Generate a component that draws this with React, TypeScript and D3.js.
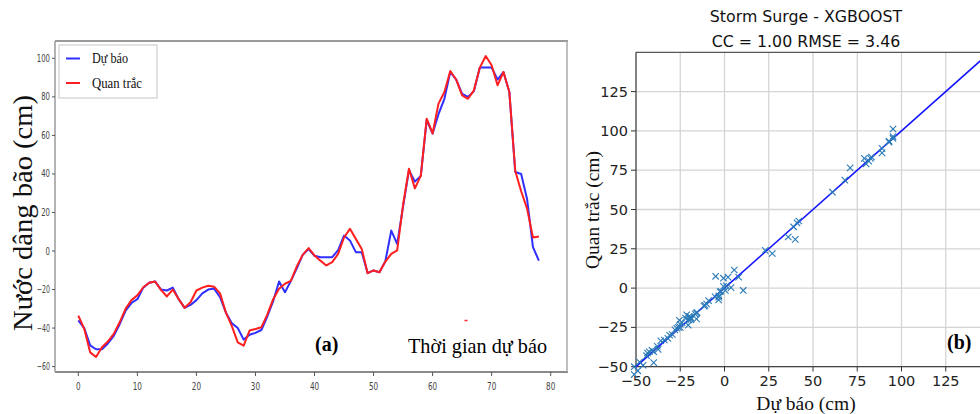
import React from "react";
import * as d3 from "d3";

// Hourly storm-surge series (cm): model forecast vs. observed
const forecast = [
  -36, -40, -49, -51, -51, -48, -44, -38, -31, -27,
  -25, -19, -16.5, -15.8, -20, -20.5, -19, -25, -29.5, -28,
  -25.5, -22, -20, -19.5, -24, -32, -37.5, -40, -46, -43.5,
  -42.5, -41, -34, -26, -15.8, -21.4, -15.5, -9, -2, 1,
  -2.5, -3.2, -3.3, -3.2, 0.5, 8, 5.5, -0.6, -0.6, -11.5,
  -10.1, -11, -5.3, 10.6, 3.7, 23, 42, 36, 39, 68,
  61, 71, 79, 93, 89, 81.5, 80, 83, 95.2, 95.2,
  95.2, 89, 92.9, 82.5, 41, 40, 27, 2, -5,
];
const observed = [
  -33.5, -40.4, -52.6, -55, -50, -47, -43, -37, -30, -25.5,
  -23, -18.8, -16.5, -15.8, -20.2, -23.6, -20, -25, -29.5, -26.6,
  -20.5, -19, -18, -18.5, -22, -32, -39, -47.4, -49.1, -41.3,
  -40.5, -39.6, -33, -25, -19.6, -17, -15.5, -8, -2, 1.5,
  -2.3, -5, -7.5, -5.8, -1.5, 7, 11.5, 6.3, 1.1, -11.5,
  -10.1, -11, -5.5, -1.5, 0.3, 24, 42.7, 32.5, 39, 68.7,
  61, 76.5, 82.5, 93.4, 88.9, 80.8, 79, 83.4, 95.2, 101.2,
  96.4, 86, 92.9, 82.5, 41.5, 31, 22, 7, 7.5,
];

const seriesTicksX = [0, 10, 20, 30, 40, 50, 60, 70, 80];
const seriesTicksY = [-60, -40, -20, 0, 20, 40, 60, 80, 100];
const scatterTicks = [-50, -25, 0, 25, 50, 75, 100, 125];
const legendLabels = ["Dự báo", "Quan trắc"];
const seriesColors = ["#2f2fff", "#ff1f1f"];

const fmt = (v: number) => (v < 0 ? "\u2212" + Math.abs(v) : String(v));

export default function App() {
  const steps = forecast.map((_, i) => i);

  // ---- panel (a): time series ----
  const x = d3.scaleLinear().domain([-3.9, 81.9]).range([55.3, 561.9]);
  const y = d3.scaleLinear().domain([-62.8, 109]).range([372, 41]);
  const line = (vals: number[]) =>
    d3
      .line<number>()
      .x((_, i) => x(steps[i]))
      .y((v) => y(v))(vals) as string;

  // ---- panel (b): scatter ----
  const sx = d3.scaleLinear().domain([-50, 150]).range([636, 990]);
  const sy = d3.scaleLinear().domain([-50, 150]).range([366.7, 52.3]);
  const pairs = forecast.map((f, i) => [f, observed[i]] as [number, number]);

  const serif = "'Liberation Serif', 'DejaVu Serif', serif";
  const sans = "'DejaVu Sans', sans-serif";

  return (
    <svg
      width={980}
      height={414}
      viewBox="0 0 980 414"
      style={{ position: "absolute", left: 0, top: 0, background: "#fff" }}
    >
      <rect x={0} y={0} width={980} height={414} fill="#fff" />

      {/* ===== (a) time series ===== */}
      <g>
        <line x1={55} x2={568} y1={41} y2={41} stroke="#9a9a9a" strokeWidth={2} />
        <line x1={55} x2={568} y1={372} y2={372} stroke="#8a8a8a" strokeWidth={2} />
        <line x1={55} x2={55} y1={41} y2={372} stroke="#9a9a9a" strokeWidth={1.5} />
        <line x1={567} x2={567} y1={41} y2={372} stroke="#aaaaaa" strokeWidth={1.5} />

        {seriesTicksY.map((t) => (
          <g key={"ay" + t}>
            <line x1={52} x2={55} y1={y(t)} y2={y(t)} stroke="#555" />
            <text
              x={50}
              y={y(t) + 3.5}
              fontSize={10}
              fontFamily={sans}
              fill="#444"
              textAnchor="end"
              textLength={fmt(t).length * 4.4}
              lengthAdjust="spacingAndGlyphs"
            >
              {fmt(t)}
            </text>
          </g>
        ))}
        {seriesTicksX.map((t) => (
          <g key={"ax" + t}>
            <line x1={x(t)} x2={x(t)} y1={372} y2={376} stroke="#555" />
            <text
              x={x(t)}
              y={390}
              fontSize={10}
              fontFamily={sans}
              fill="#444"
              textAnchor="middle"
              textLength={String(t).length * 4.6}
              lengthAdjust="spacingAndGlyphs"
            >
              {t}
            </text>
          </g>
        ))}

        <path d={line(forecast)} fill="none" stroke={seriesColors[0]} strokeWidth={2} strokeLinejoin="round" />
        <path d={line(observed)} fill="none" stroke={seriesColors[1]} strokeWidth={2} strokeLinejoin="round" />

        {/* legend */}
        <rect x={59} y={45} width={98} height={53} fill="#fff" stroke="#cfcfcf" strokeWidth={1.2} />
        {legendLabels.map((lab, i) => (
          <g key={lab}>
            <line x1={66} x2={80} y1={58.5 + i * 24.5} y2={58.5 + i * 24.5} stroke={seriesColors[i]} strokeWidth={2} />
            <text
              x={92}
              y={63 + i * 24.5}
              fontSize={15}
              fontFamily={serif}
              fill="#111"
              textLength={i === 0 ? 36 : 50}
              lengthAdjust="spacingAndGlyphs"
            >
              {lab}
            </text>
          </g>
        ))}

        <text
          transform="translate(32,213) rotate(-90)"
          fontSize={27}
          fontFamily={serif}
          fill="#111"
          textAnchor="middle"
          textLength={236}
          lengthAdjust="spacingAndGlyphs"
        >
          Nước dâng bão (cm)
        </text>

        <text x={315} y={351} fontSize={20} fontWeight="bold" fontFamily={serif} fill="#000">
          (a)
        </text>
        <text
          x={408}
          y={353}
          fontSize={22}
          fontFamily={serif}
          fill="#000"
          textLength={139}
          lengthAdjust="spacingAndGlyphs"
        >
          Thời gian dự báo
        </text>
        <line x1={464.5} x2={467.5} y1={320.5} y2={320.5} stroke="#ff2a2a" strokeWidth={1.5} />
      </g>

      {/* ===== (b) scatter ===== */}
      <g>
        <text x={806} y={22} fontSize={15.8} fontFamily={sans} fill="#111" textAnchor="middle">
          Storm Surge - XGBOOST
        </text>
        <text x={806} y={46.5} fontSize={15.8} fontFamily={sans} fill="#111" textAnchor="middle">
          CC = 1.00 RMSE = 3.46
        </text>

        {scatterTicks.map((t) => (
          <g key={"g" + t}>
            <line x1={sx(t)} x2={sx(t)} y1={52.3} y2={366.7} stroke="#d4d4d4" strokeWidth={1.3} />
            <line x1={636} x2={990} y1={sy(t)} y2={sy(t)} stroke="#d4d4d4" strokeWidth={1.3} />
          </g>
        ))}

        <line x1={636} x2={990} y1={52.3} y2={52.3} stroke="#555" strokeWidth={1.2} />
        <line x1={636} x2={990} y1={366.7} y2={366.7} stroke="#444" strokeWidth={1.2} />
        <line x1={636} x2={636} y1={52.3} y2={366.7} stroke="#444" strokeWidth={1.2} />

        {scatterTicks.map((t) => (
          <g key={"t" + t}>
            <line x1={631} x2={636} y1={sy(t)} y2={sy(t)} stroke="#333" />
            <text x={628} y={sy(t) + 5} fontSize={14.5} fontFamily={sans} fill="#222" textAnchor="end">
              {fmt(t)}
            </text>
            <line x1={sx(t)} x2={sx(t)} y1={366.7} y2={371.5} stroke="#333" />
            <text x={sx(t)} y={386} fontSize={14.5} fontFamily={sans} fill="#222" textAnchor="middle">
              {fmt(t)}
            </text>
          </g>
        ))}

        <line
          x1={sx(-50)}
          y1={sy(-50)}
          x2={sx(150)}
          y2={sy(150)}
          stroke="#1414ff"
          strokeWidth={1.6}
        />

        {pairs.map(([f, o], i) => {
          const cx = sx(f);
          const cy = sy(o);
          const r = 3.2;
          return (
            <g key={"p" + i} stroke="#2a7ab8" strokeWidth={1.1}>
              <line x1={cx - r} y1={cy - r} x2={cx + r} y2={cy + r} />
              <line x1={cx - r} y1={cy + r} x2={cx + r} y2={cy - r} />
            </g>
          );
        })}

        <text x={806} y={410} fontSize={19.5} fontFamily={serif} fill="#111" textAnchor="middle">
          Dự báo (cm)
        </text>
        <text
          transform="translate(599,210) rotate(-90)"
          fontSize={19.5}
          fontFamily={serif}
          fill="#111"
          textAnchor="middle"
        >
          Quan trắc (cm)
        </text>
        <text x={947} y={349} fontSize={20} fontWeight="bold" fontFamily={serif} fill="#000">
          (b)
        </text>
      </g>
    </svg>
  );
}
